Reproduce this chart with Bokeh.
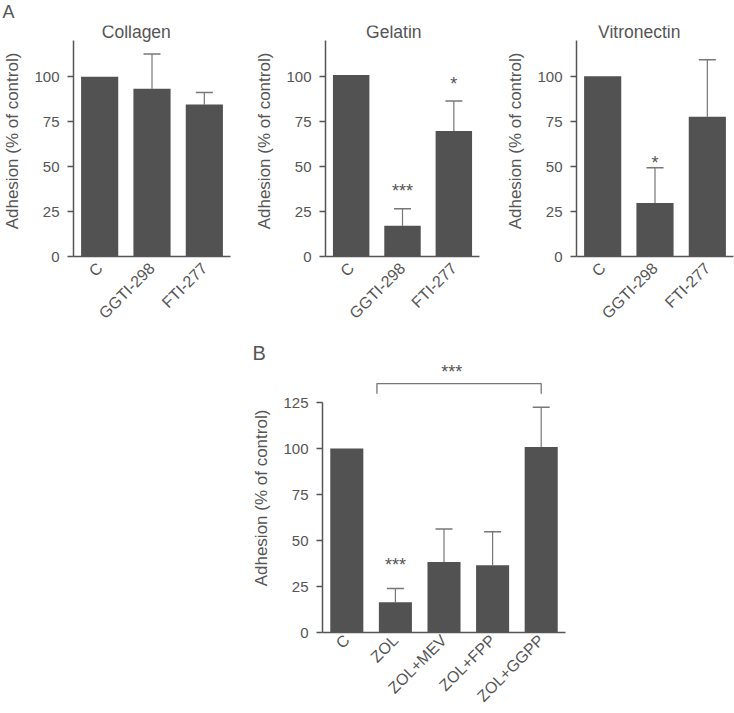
import math
from bokeh.plotting import figure
from bokeh.layouts import row, column, Spacer
from bokeh.models import (ColumnDataSource, Whisker, TeeHead, Range1d,
                          FixedTicker)
from bokeh.embed import file_html
from bokeh.resources import INLINE
from bokeh.core.properties import value

FONT = "Liberation Sans"
TEXT = "#555555"
AXC = "#555555"
BAR = "#525252"
ERR = "#777777"

# ---------------- data ----------------
cats_a = ["C", "GGTI-298", "FTI-277"]
collagen_mean = [100, 93.3, 84.5]
collagen_err = [0, 19.3, 6.7]
gelatin_mean = [101, 17.1, 69.8]
gelatin_err = [0, 9.5, 16.7]
vitronectin_mean = [100.3, 29.8, 77.7]
vitronectin_err = [0, 19.6, 31.8]

cats_b = ["C", "ZOL", "ZOL+MEV", "ZOL+FPP", "ZOL+GGPP"]
b_mean = [100.2, 16.4, 38.4, 36.6, 101.0]
b_err = [0, 7.6, 17.9, 18.2, 21.6]

# significance marks: (category, text, height in % units)
gelatin_sig = [("GGTI-298", "***", 36.3), ("FTI-277", "*", 95.8)]
vitronectin_sig = [("GGTI-298", "*", 52.0)]
b_sig = [("ZOL", "***", 36.8)]
b_bracket = ("ZOL", "ZOL+GGPP", 130.0, 135.5, "***", 141.6)

ticks_a = [0, 25, 50, 75, 100]
ticks_b = [0, 25, 50, 75, 100, 125]


def style(p, ticks, xstandoff):
    p.grid.visible = False
    p.outline_line_color = None
    for ax in (p.xaxis, p.yaxis):
        ax.axis_line_color = AXC
        ax.axis_line_width = 1.5
        ax.major_label_text_font = FONT
        ax.major_label_text_color = TEXT
        ax.minor_tick_line_color = None
        ax.minor_tick_out = 0
        ax.minor_tick_in = 0
    p.xaxis.major_label_text_font_size = "16px"
    p.yaxis.major_label_text_font_size = "15px"
    p.xaxis.major_tick_line_color = None
    p.xaxis.major_tick_out = 0
    p.xaxis.major_tick_in = 0
    p.xaxis.major_label_orientation = math.pi / 4
    p.xaxis.major_label_standoff = xstandoff
    p.yaxis.ticker = FixedTicker(ticks=ticks)
    p.yaxis.major_tick_out = 6
    p.yaxis.major_tick_in = 0
    p.yaxis.major_tick_line_color = AXC
    p.yaxis.major_tick_line_width = 1.5
    p.yaxis.major_label_standoff = 8
    p.yaxis.axis_label = "Adhesion (% of control)"
    p.yaxis.axis_label_text_font = FONT
    p.yaxis.axis_label_text_font_size = "17px"
    p.yaxis.axis_label_text_font_style = "normal"
    p.yaxis.axis_label_text_color = TEXT
    p.yaxis.axis_label_standoff = 9


def style_title(t, size, offset, valign="bottom", standoff=0):
    t.align = "left"
    t.offset = offset
    t.vertical_align = valign
    t.text_font = FONT
    t.text_font_size = size
    t.text_font_style = "normal"
    t.text_color = TEXT
    t.standoff = standoff


def bars(p, cats, means, errs, width):
    src = ColumnDataSource(dict(x=cats, top=means))
    p.vbar(x="x", top="top", width=width, source=src, fill_color=BAR,
           line_color=None)
    ex = [c for c, e in zip(cats, errs) if e > 0]
    eb = [m for m, e in zip(means, errs) if e > 0]
    eu = [m + e for m, e in zip(means, errs) if e > 0]
    esrc = ColumnDataSource(dict(x=ex, lo=eb, hi=eu))
    w = Whisker(base="x", lower="lo", upper="hi", source=esrc,
                line_color=ERR, line_width=1.2,
                upper_head=TeeHead(size=17, line_color=ERR, line_width=1.5),
                lower_head=None)
    p.add_layout(w)


def stars(p, sig):
    if not sig:
        return
    src = ColumnDataSource(dict(x=[s[0] for s in sig], y=[s[2] for s in sig],
                                t=[s[1] for s in sig]))
    p.text(x="x", y="y", text="t", source=src, text_align="center",
           text_baseline="alphabetic", text_font=value(FONT),
           text_font_size="18px", text_color=TEXT)


def panel_a(title, title_x, means, errs, sig, width, right, letter=""):
    p = figure(x_range=cats_a, y_range=Range1d(0, 128.5), width=width,
               height=339, output_backend="svg", toolbar_location=None,
               min_border_left=69, min_border_right=right,
               min_border_top=24, min_border_bottom=83, title=letter)
    style_title(p.title, "18px", -71, valign="top", standoff=3)
    bars(p, cats_a, means, errs, 0.71)
    stars(p, sig)
    style(p, ticks_a, 9)
    p.yaxis.bounds = (0, 120)
    # panel heading, drawn just above the top of the value axis
    p.text(x=[title_x], y=[125.0], text=[title], text_align="center",
           text_baseline="alphabetic", text_font=value(FONT),
           text_font_size="17.5px", text_color=TEXT)
    return p


p1 = panel_a("Collagen", 1.20, collagen_mean, collagen_err, [], 252, 22,
             letter="A")
p2 = panel_a("Gelatin", 1.33, gelatin_mean, gelatin_err, gelatin_sig, 251, 24)
p3 = panel_a("Vitronectin", 1.20, vitronectin_mean, vitronectin_err,
             vitronectin_sig, 231, 1)

# ---------------- panel B ----------------
pb = figure(x_range=cats_b, y_range=Range1d(0, 146.4), width=328, height=374,
            output_backend="svg", toolbar_location=None,
            min_border_left=69, min_border_right=12, min_border_top=19,
            min_border_bottom=81, title="B")
style_title(pb.title, "20px", -70)
bars(pb, cats_b, b_mean, b_err, 0.68)
stars(pb, b_sig)
style(pb, ticks_b, 5)
pb.yaxis.bounds = (0, 125)

l_i = cats_b.index(b_bracket[0]) + 0.5 - 0.38
r_i = cats_b.index(b_bracket[1]) + 0.5
lo, hi = b_bracket[2], b_bracket[3]
pb.line(x=[l_i, l_i, r_i, r_i], y=[lo, hi, hi, lo], line_color=ERR,
        line_width=1.3)
pb.text(x=[(l_i + r_i) / 2 - 0.15], y=[b_bracket[5]], text=[b_bracket[4]],
        text_align="center", text_baseline="alphabetic",
        text_font=value(FONT), text_font_size="18px", text_color=TEXT)

layout = column(row(p1, p2, p3), row(Spacer(width=249, height=374), pb))

open("out.html", "w").write(file_html(layout, INLINE))
